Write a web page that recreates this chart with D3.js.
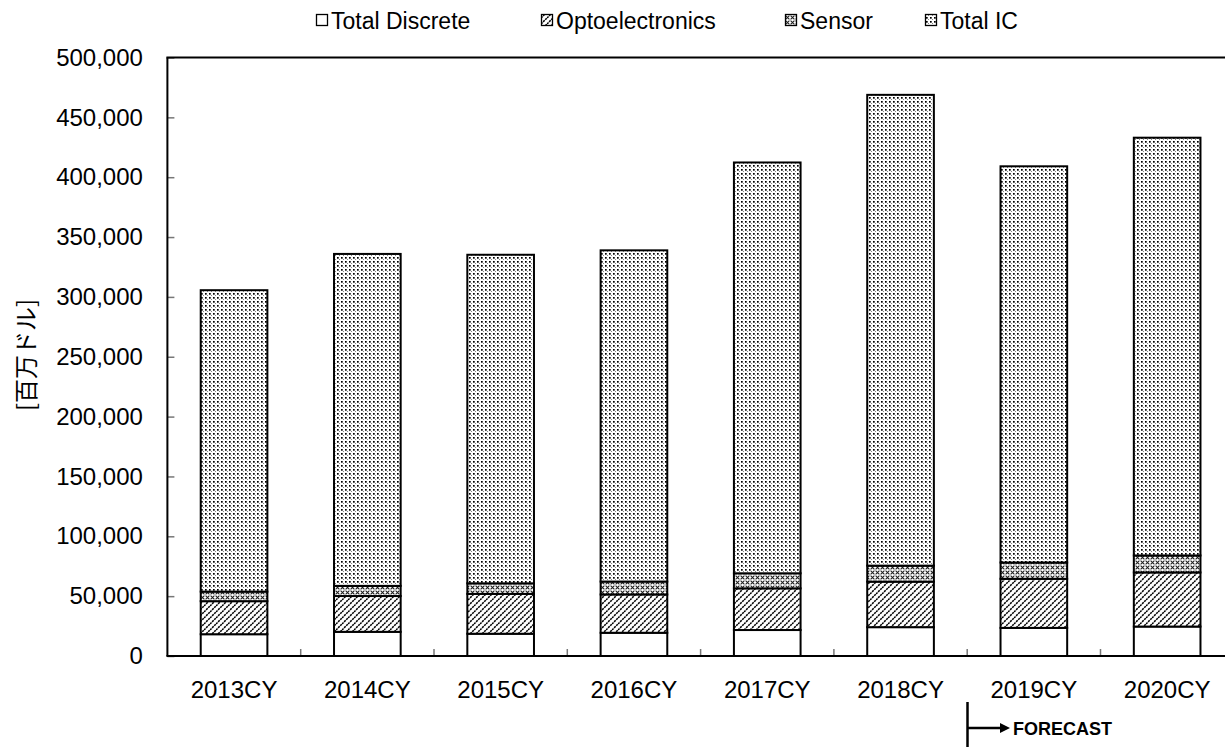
<!DOCTYPE html>
<html>
<head>
<meta charset="utf-8">
<script src="https://cdn.jsdelivr.net/npm/d3@7"></script>
<style>
  body { margin: 0; background: #fff; overflow: hidden; }
  text { font-family: "Liberation Sans", Arial, "Noto Sans CJK JP", sans-serif; fill: #000; }
</style>
</head>
<body>
<div id="chart"></div>
<script>
// data (million USD)
var years = ["2013CY", "2014CY", "2015CY", "2016CY", "2017CY", "2018CY", "2019CY", "2020CY"];
var seriesNames = ["Total Discrete", "Optoelectronics", "Sensor", "Total IC"];
var discrete = [18200, 20200, 18600, 19400, 21700, 24100, 23500, 24600];
var opto = [27600, 29900, 33300, 32000, 34800, 38000, 41000, 45200];
var sensor = [8000, 8500, 8800, 10800, 12600, 13400, 13600, 14200];
var ic = [251800, 277300, 274500, 276700, 343200, 393300, 331000, 349000];
var yTicks = [0, 50000, 100000, 150000, 200000, 250000, 300000, 350000, 400000, 450000, 500000];

var width = 1225, height = 747;
var plotLeft = 167.4, plotRight = 1233.8, plotTop = 57.5, plotBottom = 656;

var svg = d3.select("#chart").append("svg")
  .attr("width", width)
  .attr("height", height)
  .style("display", "block");

// fill patterns
var defs = svg.append("defs");
defs.append("pattern").attr("id", "p0")
  .attr("patternUnits", "userSpaceOnUse").attr("width", 4).attr("height", 4)
  .append("rect").attr("width", 4).attr("height", 4).attr("fill", "#fff");

var p1 = defs.append("pattern").attr("id", "p1")
  .attr("patternUnits", "userSpaceOnUse").attr("width", 6).attr("height", 6);
p1.append("rect").attr("width", 6).attr("height", 6).attr("fill", "#fff");
p1.append("path").attr("d", "M0,6 L6,0 M-2,2 L2,-2 M4,8 L8,4")
  .attr("stroke", "#000").attr("stroke-width", 1.5).attr("stroke-dasharray", "2.2,0.8");

var p2 = defs.append("pattern").attr("id", "p2")
  .attr("patternUnits", "userSpaceOnUse").attr("width", 5).attr("height", 5);
p2.append("rect").attr("width", 5).attr("height", 5).attr("fill", "#fff");
p2.append("path").attr("d", "M0.6,0.6 L4.4,4.4 M4.4,0.6 L0.6,4.4")
  .attr("stroke", "#222").attr("stroke-width", 1.1);

var p3 = defs.append("pattern").attr("id", "p3")
  .attr("patternUnits", "userSpaceOnUse").attr("width", 4).attr("height", 4);
p3.append("rect").attr("width", 4).attr("height", 4).attr("fill", "#fff");
p3.append("rect").attr("x", 1).attr("y", 1).attr("width", 1.7).attr("height", 1.7).attr("fill", "#000");
p3.append("rect").attr("x", 3).attr("y", 3).attr("width", 1).attr("height", 1).attr("fill", "#888");

var fills = ["url(#p0)", "url(#p1)", "url(#p2)", "url(#p3)"];

var x = d3.scaleBand().domain(years).range([plotLeft, plotRight])
  .paddingInner(0.5).paddingOuter(0.25);
var y = d3.scaleLinear().domain([0, 500000]).range([plotBottom, plotTop]);

// stacked data
var rows = years.map(function(yr, i) {
  return { year: yr, "Total Discrete": discrete[i], "Optoelectronics": opto[i], "Sensor": sensor[i], "Total IC": ic[i] };
});
var stacked = d3.stack().keys(seriesNames)(rows);

// y axis
var yAxis = d3.axisLeft(y).tickValues(yTicks).tickFormat(d3.format(","))
  .tickSize(-7).tickPadding(24.5);
var gy = svg.append("g").attr("transform", "translate(" + plotLeft + ",0)").call(yAxis);
gy.select(".domain").remove();
gy.selectAll(".tick line").attr("stroke", "#777").attr("stroke-width", 1.5);
gy.selectAll(".tick text").attr("font-size", 24).attr("fill", "#000")
  .style("font-family", "'Liberation Sans', Arial, sans-serif");

// x tick marks at category boundaries
var step = x.step();
svg.append("g").selectAll("line")
  .data(years.slice(0, -1))
  .enter().append("line")
  .attr("x1", function(d) { return x(d) + x.bandwidth() / 2 + step / 2; })
  .attr("x2", function(d) { return x(d) + x.bandwidth() / 2 + step / 2; })
  .attr("y1", plotBottom).attr("y2", plotBottom - 7)
  .attr("stroke", "#777").attr("stroke-width", 1.5);

// x labels
svg.append("g").selectAll("text")
  .data(years)
  .enter().append("text")
  .attr("x", function(d) { return x(d) + x.bandwidth() / 2; })
  .attr("y", 697.5)
  .attr("text-anchor", "middle")
  .attr("font-size", 24)
  .text(function(d) { return d; });

// bars
svg.append("g").selectAll("g")
  .data(stacked)
  .enter().append("g")
  .attr("fill", function(d, i) { return fills[i]; })
  .selectAll("rect")
  .data(function(d) { return d; })
  .enter().append("rect")
  .attr("x", function(d) { return x(d.data.year); })
  .attr("y", function(d) { return y(d[1]); })
  .attr("width", x.bandwidth())
  .attr("height", function(d) { return y(d[0]) - y(d[1]); })
  .attr("stroke", "#000").attr("stroke-width", 2);

// plot frame: top, left, bottom (right side is off the picture)
svg.append("line").attr("x1", plotLeft - 1).attr("x2", width)
  .attr("y1", plotTop).attr("y2", plotTop).attr("stroke", "#000").attr("stroke-width", 2);
svg.append("line").attr("x1", plotLeft).attr("x2", plotLeft)
  .attr("y1", plotTop).attr("y2", plotBottom).attr("stroke", "#000").attr("stroke-width", 2);
svg.append("line").attr("x1", plotLeft - 1).attr("x2", width)
  .attr("y1", plotBottom).attr("y2", plotBottom).attr("stroke", "#000").attr("stroke-width", 2);

// y axis title
svg.append("text")
  .attr("transform", "translate(35,355) rotate(-90)")
  .attr("text-anchor", "middle")
  .attr("font-size", 24)
  .style("font-family", "'Noto Sans CJK JP', sans-serif")
  .text("[百万ドル]");

// legend
var legendX = [316, 541, 785, 925];
var legend = svg.append("g").selectAll("g")
  .data(seriesNames)
  .enter().append("g")
  .attr("transform", function(d, i) { return "translate(" + legendX[i] + ",0)"; });
legend.append("rect")
  .attr("x", 0.5).attr("y", 14.5).attr("width", 11).attr("height", 11)
  .attr("fill", function(d, i) { return fills[i]; })
  .attr("stroke", "#000").attr("stroke-width", 1.3);
legend.append("text")
  .attr("x", 15).attr("y", 29)
  .attr("font-size", 23)
  .text(function(d) { return d; });

// forecast marker
var fx = 967.5;
svg.append("line").attr("x1", fx).attr("x2", fx).attr("y1", 702).attr("y2", height)
  .attr("stroke", "#000").attr("stroke-width", 2.5);
svg.append("line").attr("x1", fx).attr("x2", 1002).attr("y1", 728).attr("y2", 728)
  .attr("stroke", "#000").attr("stroke-width", 2.5);
svg.append("path").attr("d", "M1000,723 L1010,728 L1000,733 Z").attr("fill", "#000");
svg.append("text")
  .attr("x", 1013).attr("y", 734.5)
  .attr("font-size", 18).attr("font-weight", "bold")
  .text("FORECAST");
</script>
</body>
</html>
